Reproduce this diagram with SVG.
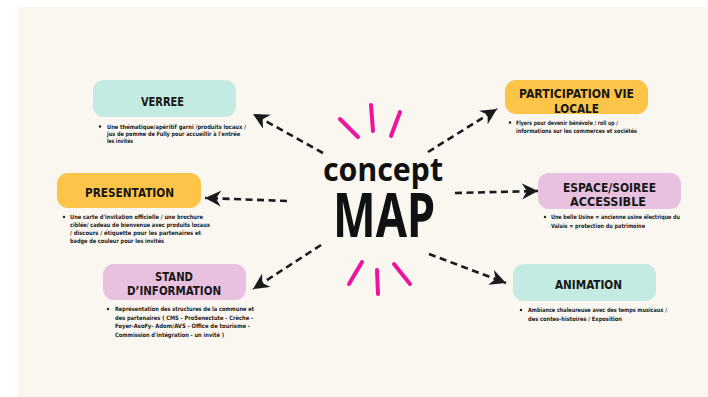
<svg xmlns="http://www.w3.org/2000/svg" width="708" height="397" viewBox="0 0 708 397">
<style>
.title{font-family:"DejaVu Sans Condensed","DejaVu Sans",sans-serif;font-weight:bold;font-size:13px;fill:#161616;text-anchor:middle}
.body{font-family:"DejaVu Sans Condensed","DejaVu Sans",sans-serif;font-weight:bold;font-size:6px;fill:#222}
.teal{fill:#c3ebe2}
.yellow{fill:#fcc54a}
.pink{fill:#e9c1e0}
.conn{fill:none;stroke:#1a1a1a;stroke-width:2.6;stroke-dasharray:7 4.5;marker-end:url(#ah)}
.ray{fill:none;stroke:#ec169e;stroke-width:4;stroke-linecap:round}
.center{font-family:"Noto Sans","DejaVu Sans",sans-serif;font-weight:bold;fill:#111;text-anchor:middle}
</style>
<defs>
<marker id="ah" markerUnits="userSpaceOnUse" markerWidth="22" markerHeight="22" refX="16" refY="8" orient="auto">
<path d="M16,8 L0,0 L5,8 L0,16 Z" fill="#1a1a1a"/>
</marker>
</defs>
<rect x="0" y="0" width="708" height="397" fill="#ffffff"/>
<rect x="18" y="7" width="690" height="390" fill="#faf6f0"/>

<g id="connectors">
<line class="conn" x1="323" y1="153" x2="253" y2="114"/>
<line class="conn" x1="287" y1="201" x2="205" y2="198"/>
<line class="conn" x1="321" y1="245" x2="253" y2="289"/>
<line class="conn" x1="428" y1="152" x2="497" y2="109"/>
<line class="conn" x1="455" y1="193" x2="538" y2="191"/>
<line class="conn" x1="429" y1="254" x2="506" y2="283"/>
</g>

<g id="center">
<line class="ray" x1="340" y1="119" x2="358" y2="137"/>
<line class="ray" x1="371" y1="105" x2="373" y2="131"/>
<line class="ray" x1="400" y1="112" x2="391" y2="136"/>
<line class="ray" x1="362" y1="262" x2="349" y2="284"/>
<line class="ray" x1="377" y1="270" x2="378" y2="294"/>
<line class="ray" x1="394" y1="264" x2="410" y2="284"/>
<text class="center" x="383" y="181" font-size="32" textLength="120" lengthAdjust="spacingAndGlyphs">concept</text>
<text class="center" x="384" y="237" font-size="61" textLength="102" lengthAdjust="spacingAndGlyphs">MAP</text>
</g>

<g id="verree">
<rect class="teal" x="93" y="80" width="143" height="37" rx="11"/>
<text class="title" x="162.5" y="106" textLength="43" lengthAdjust="spacingAndGlyphs">VERREE</text>
<circle cx="100" cy="126.5" r="1.2" fill="#222"/>
<text class="body" x="107" y="128.5" textLength="139" lengthAdjust="spacingAndGlyphs">Une thématique/apéritif garni /produits locaux /</text>
<text class="body" x="107" y="135.5" textLength="133" lengthAdjust="spacingAndGlyphs">jus de pomme de Fully pour accueillir à l'entrée</text>
<text class="body" x="107" y="142.5" textLength="26" lengthAdjust="spacingAndGlyphs">les invités</text>
</g>

<g id="presentation">
<rect class="yellow" x="57" y="173" width="144" height="35" rx="11"/>
<text class="title" x="129.5" y="197" textLength="89" lengthAdjust="spacingAndGlyphs">PRESENTATION</text>
<circle cx="64" cy="217" r="1.2" fill="#222"/>
<text class="body" x="70" y="219" textLength="133" lengthAdjust="spacingAndGlyphs">Une carte d'invitation officielle / une brochure</text>
<text class="body" x="70" y="227" textLength="140" lengthAdjust="spacingAndGlyphs">ciblée/ cadeau de bienvenue avec produits locaux</text>
<text class="body" x="70" y="235" textLength="131" lengthAdjust="spacingAndGlyphs">/ discours / étiquette pour les partenaires et</text>
<text class="body" x="70" y="243" textLength="94" lengthAdjust="spacingAndGlyphs">badge de couleur pour les invités</text>
</g>

<g id="stand">
<rect class="pink" x="103" y="264" width="143" height="36" rx="11"/>
<text class="title" x="174" y="281" textLength="38" lengthAdjust="spacingAndGlyphs">STAND</text>
<text class="title" x="174" y="295" textLength="94" lengthAdjust="spacingAndGlyphs">D’INFORMATION</text>
<circle cx="108" cy="309" r="1.2" fill="#222"/>
<text class="body" x="115" y="311" textLength="139" lengthAdjust="spacingAndGlyphs">Représentation des structures de la commune et</text>
<text class="body" x="115" y="319.5" textLength="138" lengthAdjust="spacingAndGlyphs">des partenaires ( CMS - ProSenectute - Crèche -</text>
<text class="body" x="115" y="328" textLength="135" lengthAdjust="spacingAndGlyphs">Foyer-AsoFy- Adom/AVS - Office de tourisme -</text>
<text class="body" x="115" y="336.5" textLength="109" lengthAdjust="spacingAndGlyphs">Commission d'intégration - un invité )</text>
</g>

<g id="participation">
<rect class="yellow" x="505" y="80" width="143" height="34" rx="11"/>
<text class="title" x="576.5" y="98" textLength="115" lengthAdjust="spacingAndGlyphs">PARTICIPATION VIE</text>
<text class="title" x="576.5" y="112.5" textLength="45" lengthAdjust="spacingAndGlyphs">LOCALE</text>
<circle cx="510" cy="122.5" r="1.2" fill="#222"/>
<text class="body" x="516" y="124.5" textLength="102" lengthAdjust="spacingAndGlyphs">Flyers pour devenir bénévole / roll up /</text>
<text class="body" x="516" y="133" textLength="121" lengthAdjust="spacingAndGlyphs">informations sur les commerces et sociétés</text>
</g>

<g id="espace">
<rect class="pink" x="538" y="173" width="143" height="36" rx="11"/>
<text class="title" x="609.5" y="192" textLength="93" lengthAdjust="spacingAndGlyphs">ESPACE/SOIREE</text>
<text class="title" x="608" y="206" textLength="76" lengthAdjust="spacingAndGlyphs">ACCESSIBLE</text>
<circle cx="545" cy="217" r="1.2" fill="#222"/>
<text class="body" x="551" y="219" textLength="129" lengthAdjust="spacingAndGlyphs">Une belle Usine = ancienne usine électrique du</text>
<text class="body" x="551" y="227.5" textLength="94" lengthAdjust="spacingAndGlyphs">Valais = protection du patrimoine</text>
</g>

<g id="animation">
<rect class="teal" x="513" y="264" width="143" height="37" rx="11"/>
<text class="title" x="588.5" y="289" textLength="67" lengthAdjust="spacingAndGlyphs">ANIMATION</text>
<circle cx="521" cy="310" r="1.2" fill="#222"/>
<text class="body" x="528" y="312" textLength="139" lengthAdjust="spacingAndGlyphs">Ambiance chaleureuse avec des temps musicaux /</text>
<text class="body" x="528" y="320.5" textLength="94" lengthAdjust="spacingAndGlyphs">des contes-histoires / Exposition</text>
</g>
</svg>
